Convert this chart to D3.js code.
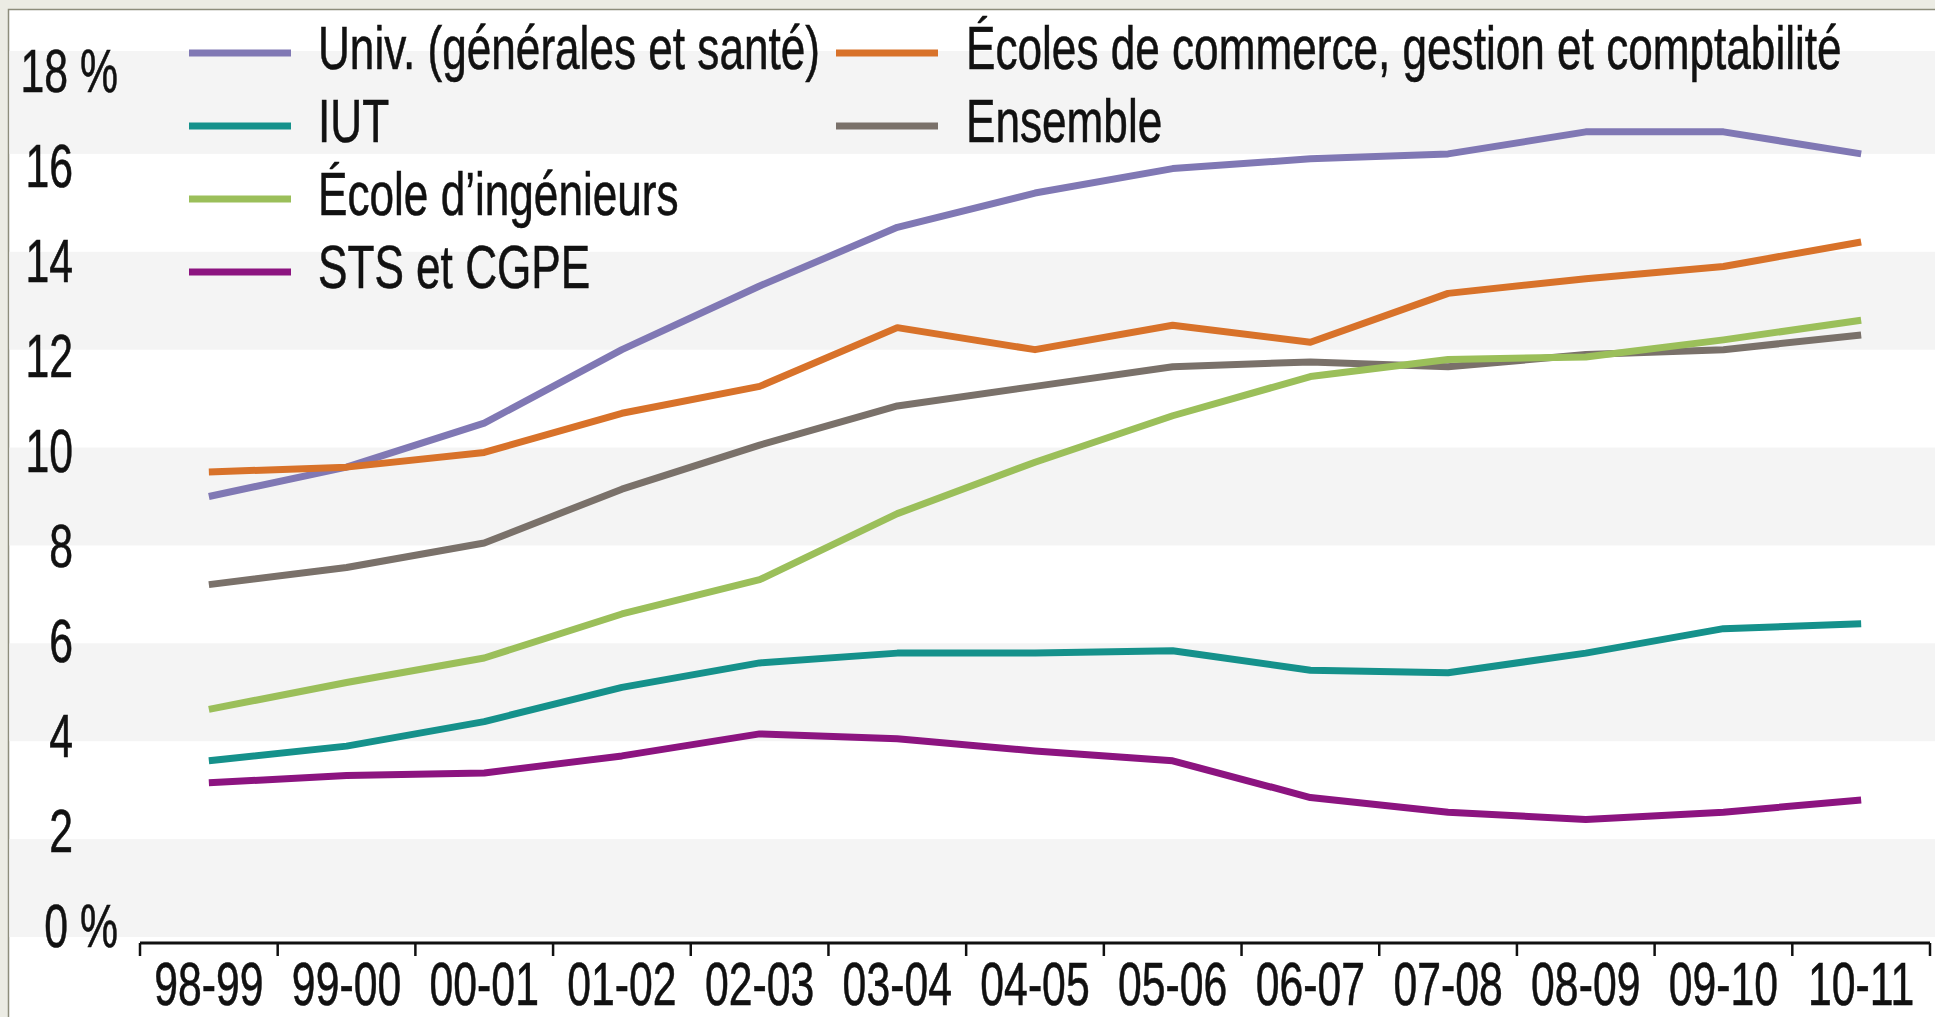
<!DOCTYPE html>
<html>
<head>
<meta charset="utf-8">
<script src="https://cdn.jsdelivr.net/npm/d3@7"></script>
<style>
  html, body { margin: 0; padding: 0; background: #ecece4; overflow: hidden; }
  svg { display: block; }
  text { font-family: "Liberation Sans", Arial, sans-serif; fill: #111; stroke: #111; stroke-width: 0.6; }
</style>
</head>
<body>
<div class="render"></div>
<script>
// years on the x axis
var categories = ["98-99","99-00","00-01","01-02","02-03","03-04","04-05","05-06","06-07","07-08","08-09","09-10","10-11"];

// series, in %
var univ       = [9.0, 9.6, 10.5, 12.0, 13.3, 14.5, 15.2, 15.7, 15.9, 16.0, 16.45, 16.45, 16.0];
var iut        = [3.6, 3.9, 4.4, 5.1, 5.6, 5.8, 5.8, 5.85, 5.45, 5.4, 5.8, 6.3, 6.4];
var ingenieurs = [4.65, 5.2, 5.7, 6.6, 7.3, 8.65, 9.7, 10.65, 11.45, 11.8, 11.85, 12.2, 12.6];
var sts        = [3.15, 3.3, 3.35, 3.7, 4.15, 4.05, 3.8, 3.6, 2.85, 2.55, 2.4, 2.55, 2.8];
var commerce   = [9.5, 9.6, 9.9, 10.7, 11.25, 12.45, 12.0, 12.5, 12.15, 13.15, 13.45, 13.7, 14.2];
var ensemble   = [7.2, 7.55, 8.05, 9.15, 10.05, 10.85, 11.25, 11.65, 11.75, 11.65, 11.9, 12.0, 12.3];

var seriesNames  = ["Univ. (générales et santé)", "IUT", "École d’ingénieurs", "STS et CGPE",
                    "Écoles de commerce, gestion et comptabilité", "Ensemble"];
var seriesValues = [univ, iut, ingenieurs, sts, commerce, ensemble];
var seriesColors = ["#8078b4", "#15918b", "#9bbf5a", "#8c1480", "#d8722a", "#7a716a"];
var drawOrder    = [5, 0, 4, 2, 1, 3];

var yTicks      = [0, 2, 4, 6, 8, 10, 12, 14, 16, 18];
var yTickLabels = ["0 %", "2", "4", "6", "8", "10", "12", "14", "16", "18 %"];
var grayBands   = [0, 4, 8, 12, 16];

var W = 1935, H = 1017;
var fontSize = 62, squeeze = 0.69;

var svg = d3.select(".render").append("svg")
    .attr("width", W)
    .attr("height", H);

// white frame with thin border
svg.append("rect")
    .attr("x", 8.5).attr("y", 9.5)
    .attr("width", W).attr("height", H)
    .attr("fill", "#fff")
    .attr("stroke", "#8d8d7b")
    .attr("stroke-width", 1.5);

var x = d3.scaleBand().domain(categories).range([140, 1930]);
var y = d3.scaleLinear().domain([0, 18]).range([937, 56]);
var yLab = d3.scaleLinear().domain([0, 18]).range([925, 70]);

// horizontal bands
svg.append("g").selectAll("rect")
    .data(grayBands)
    .enter().append("rect")
      .attr("x", 9.5)
      .attr("width", W)
      .attr("y", function(d) { return d == 16 ? 51 : y(d + 2); })
      .attr("height", function(d) { return y(d) - (d == 16 ? 51 : y(d + 2)); })
      .attr("fill", "#f4f4f4");

// condensed text helper
function squeezedText(g, tx, ty, anchor, str, sq) {
    return g.append("text")
        .attr("transform", "translate(" + tx + "," + ty + ") scale(" + (sq || squeeze) + ",1)")
        .attr("text-anchor", anchor)
        .attr("font-size", fontSize)
        .text(str);
}

// y labels
var ylab = svg.append("g");
yTicks.forEach(function(v, i) {
    var lab = yTickLabels[i];
    var right = lab.indexOf("%") >= 0 ? 118 : 73;
    squeezedText(ylab, right, yLab(v), "end", lab).attr("dominant-baseline", "central");
});

// x axis
var axisY = 943;
var xa = svg.append("g");
xa.append("line")
    .attr("x1", x.range()[0]).attr("x2", x.range()[1])
    .attr("y1", axisY).attr("y2", axisY)
    .attr("stroke", "#111").attr("stroke-width", 3);
var bounds = categories.map(function(c) { return x(c); }).concat([x.range()[1]]);
xa.selectAll(".tick").data(bounds).enter().append("line")
    .attr("x1", function(d) { return d; }).attr("x2", function(d) { return d; })
    .attr("y1", axisY).attr("y2", axisY + 13)
    .attr("stroke", "#111").attr("stroke-width", 2.5);
categories.forEach(function(c) {
    squeezedText(xa, x(c) + x.bandwidth() / 2, 1005, "middle", c);
});

// lines
var line = d3.line()
    .x(function(d, i) { return x(categories[i]) + x.bandwidth() / 2; })
    .y(function(d) { return y(d); });

svg.append("g").selectAll("path")
    .data(drawOrder)
    .enter().append("path")
      .attr("d", function(k) { return line(seriesValues[k]); })
      .attr("fill", "none")
      .attr("stroke", function(k) { return seriesColors[k]; })
      .attr("stroke-width", 7)
      .attr("stroke-linejoin", "round");

// legend: two columns
var legendPos = [
    {lx: 189, tx: 318, y: 53},
    {lx: 189, tx: 318, y: 126},
    {lx: 189, tx: 318, y: 199},
    {lx: 189, tx: 318, y: 272},
    {lx: 836, tx: 966, y: 53},
    {lx: 836, tx: 966, y: 126}
];
var legend = svg.append("g");
legendPos.forEach(function(p, k) {
    legend.append("line")
        .attr("x1", p.lx).attr("x2", p.lx + 102)
        .attr("y1", p.y).attr("y2", p.y)
        .attr("stroke", seriesColors[k])
        .attr("stroke-width", 7);
    squeezedText(legend, p.tx, p.y - 6, "start", seriesNames[k], 0.712)
        .attr("dominant-baseline", "central");
});
</script>
</body>
</html>
